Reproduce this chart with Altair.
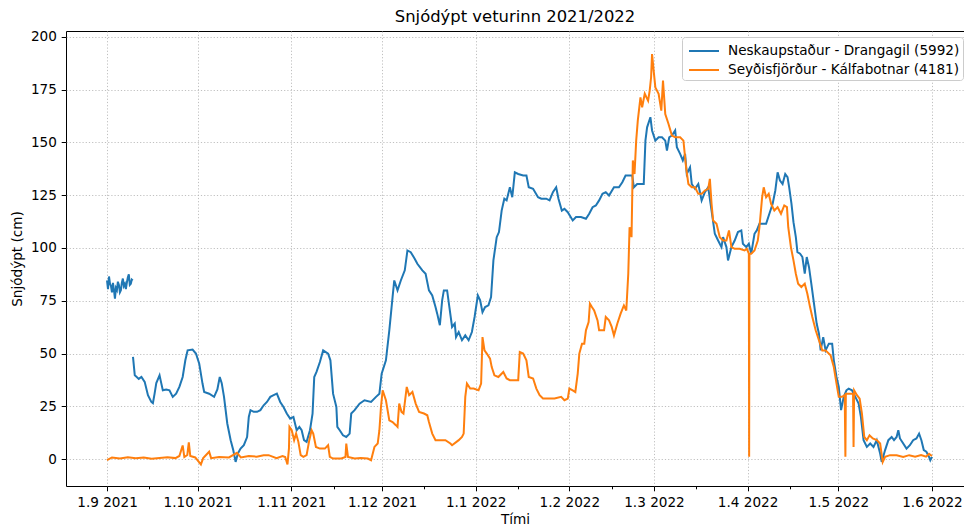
import altair as alt
import pandas as pd

station_a = "Neskaupstaður - Drangagil (5992)"
station_b = "Seyðisfjörður - Kálfabotnar (4181)"

# day offsets from 1 Sep 2021 00:00, snow depth in cm
a1_day = [0.0, 0.33, 0.66, 1.0, 1.31, 1.64, 1.97, 2.3, 2.63, 2.95, 3.28, 3.6, 3.94, 4.27,
          4.59, 4.92, 5.25, 5.58, 5.91, 6.24, 6.56, 6.89, 7.22, 7.55, 7.88, 8.2, 8.53]
a1_val = [84.6, 80.5, 86.5, 83.0, 82.0, 79.0, 83.5, 80.0, 76.0, 81.0, 80.0, 84.0, 82.5, 79.0,
          80.0, 83.5, 85.5, 82.0, 83.0, 80.5, 83.5, 86.0, 87.5, 82.5, 83.0, 85.0, 84.6]

a2_day = [8.6, 9.19, 9.75, 10.5, 11.39, 12.47, 13.55, 14.67, 15.19, 15.75, 16.31, 17.39, 17.95,
          18.47, 19.59, 20.67, 21.76, 22.87, 23.95, 25.04, 25.92, 26.68, 28.32, 29.43, 30.52,
          31.6, 32.16, 33.8, 35.44, 36.52, 37.31, 37.96, 38.72, 39.8, 40.92, 41.77, 42.56,
          43.31, 44.2, 45.28, 46.36, 46.92, 47.48, 48.56, 49.65, 50.76, 51.84, 52.93, 54.04,
          55.13, 56.21, 57.32, 58.41, 59.49, 60.61, 61.69, 62.77, 63.66, 64.41, 65.2, 66.05,
          67.17, 68.02, 68.58, 69.33, 70.45, 71.53, 73.17, 73.93, 74.81, 75.9, 76.22, 77.01,
          78.09, 79.18, 80.29, 80.82, 81.93, 83.57, 85.21, 87.38, 89.02, 90.14, 90.89, 92.3,
          93.42, 94.5, 95.06, 96.14, 97.23, 98.54, 99.42, 100.51, 101.82, 102.7, 104.35,
          105.43, 106.54, 107.63, 108.71, 109.27, 110.15, 110.91, 111.47, 112.55, 113.3,
          114.19, 115.08, 115.5, 116.39, 117.47, 118.56, 119.67, 120.75, 121.64, 122.72,
          123.48, 124.26, 125.12, 126.23, 127.09, 127.87, 128.96, 129.71, 130.6, 131.48,
          132.24, 133.32, 134.11, 134.96, 136.08, 137.72, 138.8, 139.56, 141.0, 142.64,
          143.72, 145.36, 146.45, 147.56, 148.64, 149.4, 150.51, 151.37, 152.48, 154.12,
          155.21, 156.85, 158.49, 159.57, 160.69, 161.77, 162.85, 163.97, 165.05, 166.13,
          167.77, 169.41, 170.53, 171.61, 173.81, 174.34, 175.45, 177.62, 178.18, 178.73,
          179.82, 180.37, 181.46, 182.54, 183.66, 184.74, 185.3, 186.05, 186.94, 188.02,
          188.58, 189.66, 190.55, 191.3, 191.86, 192.94, 193.5, 194.58, 195.67, 196.78,
          197.86, 198.95, 200.06, 201.14, 202.23, 203.34, 203.87, 204.98, 205.51, 206.63,
          207.71, 208.79, 209.91, 210.43, 211.55, 212.4, 213.19, 214.27, 215.03, 215.91,
          218.11, 219.19, 220.28, 221.16, 221.92, 222.7, 223.56, 224.44, 225.2, 225.75,
          226.51, 227.17, 227.95, 228.48, 229.36, 230.12, 230.9, 231.56, 232.31, 233.07,
          233.96, 234.84, 235.6, 236.16, 237.01, 237.8, 238.88, 239.97, 240.52, 241.41,
          242.16, 242.92, 243.81, 244.69, 245.44, 246.53, 247.64, 248.73, 249.48, 250.37,
          251.45, 252.57, 253.65, 254.73, 255.85, 256.37, 257.49, 258.57, 259.66, 260.44,
          261.3, 261.86, 262.41, 263.49, 264.58, 265.69, 266.77, 267.86, 268.74, 269.5,
          270.29, 271.14, 272.03, 272.45, 273.0]
a2_val = [48.4, 39.7, 39.0, 38.0, 38.9, 36.6, 30.3, 27.1, 26.5, 31.0, 36.0, 39.7, 36.0,
          32.6, 33.0, 32.6, 29.5, 31.0, 34.2, 38.9, 46.8, 51.5, 51.9, 50.0, 45.2,
          35.8, 31.8, 31.0, 29.5, 33.0, 38.9, 36.0, 29.5, 16.9, 9.0, 4.3, -1.3,
          2.7, 5.0, 6.6, 10.5, 20.0, 23.2, 22.4, 22.4, 23.2, 25.5, 27.1, 29.5,
          30.3, 31.0, 27.1, 24.7, 21.6, 19.2, 20.0, 13.7, 15.3, 13.7, 9.0, 8.2,
          13.7, 21.6, 38.9, 41.3, 46.0, 51.5, 50.0, 46.8, 31.0, 24.7, 15.3, 13.7,
          11.3, 10.5, 12.1, 21.6, 23.2, 26.3, 27.9, 27.1, 29.5, 31.0, 40.5, 46.8,
          61.0, 76.7, 84.6, 79.9, 84.6, 89.4, 98.8, 98.0, 94.9, 92.5, 89.4,
          87.8, 79.9, 77.5, 72.0, 68.9, 63.4, 75.2, 79.9, 79.9, 72.0,
          62.6, 64.2, 57.8, 60.2, 56.3, 58.6, 56.3, 60.2, 67.3, 77.5,
          75.2, 69.6, 72.0, 72.8, 76.7, 94.1, 105.1, 107.5, 117.7, 123.3,
          122.5, 128.7, 124.0, 135.8, 135.0, 134.3, 134.3, 128.7, 128.0, 124.0,
          123.3, 123.3, 122.5, 126.4, 128.7, 123.3, 117.7, 118.5, 116.9, 113.0,
          114.6, 114.6, 113.8, 116.2, 119.3, 120.1, 122.5, 125.6, 126.4, 124.8,
          128.7, 128.7, 131.1, 134.3, 134.3, 128.7, 130.3, 130.3, 150.8, 157.1,
          161.9, 155.6, 150.8, 152.4, 152.4, 150.8, 146.1, 152.4, 153.2, 155.6,
          147.7, 144.5, 141.4, 144.5, 135.0, 138.2, 130.3, 128.0, 130.3, 122.5,
          126.4, 128.7, 117.7, 106.7, 103.5, 100.4, 105.1, 100.4, 94.1, 100.4,
          103.5, 107.5, 108.3, 102.0, 100.4, 102.0, 97.3, 106.7, 108.3, 111.4,
          111.4, 116.2, 120.9, 127.2, 135.8, 131.9, 130.3, 135.0, 133.5, 128.7,
          120.9, 112.2, 105.1, 98.0, 97.3, 95.7, 87.8, 95.7, 90.9, 83.1,
          73.6, 64.2, 59.4, 51.5, 57.8, 51.5, 54.7, 54.7, 46.8, 38.9,
          34.2, 23.2, 29.5, 32.6, 33.4, 32.6, 29.5, 26.3, 20.0, 9.0,
          5.8, 7.4, 5.8, 9.0, 2.7, -1.3, 4.3, 9.0, 10.5, 9.0,
          10.5, 13.7, 9.8, 7.4, 5.0, 6.6, 9.0, 9.8, 12.1, 9.0,
          4.3, 3.5, 1.1, -0.5, 1.1]

b_day = [0.0, 1.64, 4.27, 6.89, 9.52, 12.14, 14.77, 17.39, 20.02, 22.64, 23.95, 25.04, 25.59,
         26.58, 27.07, 27.56, 29.2, 31.07, 31.83, 33.8, 34.45, 37.08, 40.36, 42.99, 44.3,
         46.92, 49.55, 51.84, 53.49, 56.11, 58.08, 58.97, 59.72, 60.21, 60.38, 61.13, 61.92,
         62.58, 63.33, 64.09, 64.97, 66.05, 66.94, 67.7, 68.25, 69.14, 70.45, 72.09, 73.17,
         73.73, 74.81, 77.54, 78.91, 79.18, 79.74, 81.93, 84.0, 86.3, 87.38, 88.5, 89.58,
         90.14, 90.66, 91.22, 92.3, 93.42, 94.5, 95.59, 96.14, 96.7, 97.45, 98.11, 99.19,
         99.98, 101.07, 102.15, 103.27, 104.9, 105.99, 106.54, 107.63, 108.71, 110.35,
         111.99, 113.63, 114.19, 116.39, 117.47, 118.03, 118.56, 119.11, 120.2, 121.31,
         122.95, 123.8, 124.26, 124.92, 125.68, 126.76, 127.31, 128.2, 129.51, 131.15,
         132.24, 133.32, 136.08, 136.6, 137.72, 138.8, 139.56, 141.0, 142.08, 143.16,
         144.28, 145.92, 148.09, 150.29, 151.37, 152.48, 153.01, 154.12, 154.98, 155.77,
         156.3, 157.19, 157.94, 158.49, 159.38, 159.81, 160.46, 161.21, 162.33, 162.85,
         164.49, 165.05, 166.13, 167.02, 167.77, 168.89, 169.97, 171.05, 171.84, 172.5,
         172.93, 173.58, 174.01, 174.57, 175.12, 175.65, 176.53, 177.09, 177.95, 179.06,
         179.59, 180.05, 180.37, 180.9, 181.46, 182.54, 183.43, 183.99, 184.74, 185.82,
         186.94, 188.02, 189.66, 190.75, 191.63, 192.39, 193.5, 194.58, 195.67, 196.78,
         197.86, 198.95, 199.5, 200.06, 200.58, 201.7, 202.78, 203.87, 204.98, 205.83,
         206.63, 207.71, 209.35, 210.99, 211.75, 212.4, 212.5, 212.6, 213.19, 214.27,
         215.36, 215.91, 216.8, 217.32, 218.11, 218.97, 219.76, 220.84, 221.92, 223.04,
         224.12, 225.01, 225.44, 226.32, 227.17, 227.95, 228.71, 229.79, 230.9, 231.76,
         232.65, 233.4, 234.52, 235.6, 236.69, 237.8, 239.44, 240.52, 241.41, 242.16,
         243.25, 244.13, 244.35, 244.5, 246.0, 246.88, 247.05, 247.25, 248.18, 249.07,
         249.82, 250.6, 251.45, 252.34, 253.42, 254.73, 255.85, 256.7, 257.49, 259.13,
         261.3, 263.49, 265.46, 267.43, 269.4, 271.04, 272.03, 273.0]
b_val = [-0.5, 0.8, 0.3, 0.9, 0.4, 0.8, 0.2, 0.6, 0.9, 0.5, 1.5, 6.5, 1.0,
         2.0, 8.0, 1.5, 0.8, -2.5, 0.5, 3.5, 0.5, 1.0, 0.8, 3.0, 0.8,
         1.5, 1.2, 1.9, 1.9, 0.5, 1.5, 1.0, -2.5, 5.0, 15.3, 13.7, 9.0,
         12.1, 8.2, 1.9, 1.1, 1.9, 9.0, 13.7, 12.1, 5.8, 5.0, 5.0, 6.6,
         1.1, 0.3, 0.3, 1.0, 7.4, 1.1, 0.3, 0.6, 0.3, -0.5, 5.8, 7.4,
         13.7, 24.7, 32.6, 27.9, 18.4, 17.6, 16.1, 15.3, 26.3, 22.4, 21.6, 34.2,
         30.3, 31.8, 26.3, 22.4, 21.6, 20.8, 17.6, 12.1, 9.0, 9.0,
         9.0, 7.4, 6.6, 9.0, 10.5, 12.1, 29.5, 35.8, 33.4, 33.4,
         32.6, 35.8, 57.8, 51.5, 50.0, 47.6, 43.6, 39.7, 38.9, 41.3,
         38.2, 37.4, 37.4, 50.7, 50.0, 46.8, 38.9, 38.2, 33.4, 30.3,
         28.7, 28.7, 28.7, 29.5, 27.9, 28.7, 33.4, 32.6, 31.8, 40.5,
         50.0, 54.7, 54.7, 61.0, 64.9, 73.6, 72.0, 70.4, 65.7, 61.0,
         61.0, 67.3, 65.7, 62.6, 58.6, 64.2, 68.9, 72.8, 70.4, 87.8,
         109.8, 105.1, 141.4, 135.0, 150.8, 160.3, 171.3, 166.6, 173.0, 169.7,
         174.5, 180.8, 191.8, 183.9, 176.0, 173.0, 165.0, 179.2, 163.4, 158.7,
         153.2, 152.4, 152.4, 150.8, 138.2, 130.3, 128.7, 128.7, 125.6, 125.6,
         127.2, 128.0, 132.7, 120.9, 113.0, 111.4, 105.1, 103.5, 103.5, 108.3,
         100.4, 99.6, 99.6, 98.8, 99.6, 97.3, 1.1, 97.3, 97.3, 98.8,
         103.5, 109.8, 124.0, 128.7, 124.0, 125.6, 120.9, 117.7, 119.3, 116.2,
         120.1, 119.3, 109.8, 100.4, 94.1, 87.8, 83.1, 81.5, 83.1, 78.3,
         72.0, 67.3, 61.0, 56.3, 51.5, 51.5, 49.2, 43.6, 35.8, 29.5,
         29.5, 30.3, 1.1, 31.0, 31.0, 31.0, 5.8, 32.6, 30.3, 28.7,
         21.6, 10.5, 9.0, 11.3, 9.8, 9.0, 7.4, -1.3, 1.1, 1.9,
         1.9, 1.1, 1.9, 1.2, 2.0, 1.2, 2.5, 1.5]

month_ticks = [0, 30, 61, 91, 122, 153, 181, 212, 242, 273]
month_labels = ["1.9 2021", "1.10 2021", "1.11 2021", "1.12 2021", "1.1 2022",
                "1.2 2022", "1.3 2022", "1.4 2022", "1.5 2022", "1.6 2022"]
minor_ticks = [14, 44, 75, 105, 136, 167, 195, 226, 256]
y_ticks = [0, 25, 50, 75, 100, 125, 150, 175, 200]

rows = []
for d, v in zip(a1_day, a1_val):
    rows.append({"day": d, "depth": v, "station": station_a, "seg": "a1"})
for d, v in zip(a2_day, a2_val):
    rows.append({"day": d, "depth": v, "station": station_a, "seg": "a2"})
for d, v in zip(b_day, b_val):
    rows.append({"day": d, "depth": v, "station": station_b, "seg": "b"})
df = pd.DataFrame(rows)

all_ticks = sorted(month_ticks + minor_ticks)
major_arr = "[" + ",".join(str(t) for t in month_ticks) + "]"
label_expr = ""
for t, lab in zip(month_ticks, month_labels):
    label_expr += f"datum.value == {t} ? '{lab}' : "
label_expr += "''"
is_major = f"indexof({major_arr}, datum.value) >= 0"

x_axis = alt.Axis(
    values=all_ticks,
    labelExpr=label_expr,
    title="Tími",
    grid=True,
    gridOpacity={"condition": {"test": is_major, "value": 1}, "value": 0},
    tickSize={"condition": {"test": is_major, "value": 4.8}, "value": 2.8},
    labelPadding=4.8,
    labelOverlap=False,
    labelFlush=False,
    titleY=37,
    titleBaseline="alphabetic",
)
y_axis = alt.Axis(
    values=y_ticks,
    title="Snjódýpt (cm)",
    grid=True,
    tickSize=4.8,
    labelPadding=4.8,
    labelOverlap=False,
    titleX=-45,
    titleBaseline="alphabetic",
)

legend = alt.Legend(
    title=None,
    orient="none",
    legendX=616,
    legendY=6,
    symbolType="M-1.5,0L1.5,0",
    symbolSize=400,
    symbolStrokeWidth=2,
    symbolOffset=8,
    labelOffset=13,
    labelFontSize=13.6,
    labelFont="DejaVu Sans",
    labelColor="black",
    labelLimit=500,
    padding=3,
    rowPadding=1,
    fillColor="white",
    strokeColor="#cccccc",
    cornerRadius=3,
)

chart = alt.Chart(df).mark_line(strokeWidth=2, clip=True).encode(
    x=alt.X("day:Q", scale=alt.Scale(domain=[-13.57, 283.6], nice=False, zero=False), axis=x_axis),
    y=alt.Y("depth:Q", scale=alt.Scale(domain=[-12.7, 202.7], nice=False, zero=False), axis=y_axis),
    color=alt.Color("station:N",
                    scale=alt.Scale(domain=[station_a, station_b], range=["#1f77b4", "#ff7f0e"]),
                    legend=legend),
    detail="seg:N",
).properties(
    width=898,
    height=455,
    padding={"left": 58, "top": 23, "right": 0, "bottom": 40},
    autosize=alt.AutoSizeParams(type="none"),
    title=alt.TitleParams("Snjódýpt veturinn 2021/2022", fontSize=16.4, fontWeight="normal",
                          font="DejaVu Sans", color="black", anchor="middle", offset=8,
                          baseline="alphabetic", dy=17),
).configure(
    font="DejaVu Sans",
).configure_view(
    stroke="black", strokeWidth=1,
).configure_axis(
    domain=False,
    tickColor="black",
    tickWidth=1,
    labelColor="black",
    titleColor="black",
    labelFontSize=13.6,
    titleFontSize=13.6,
    titleFontWeight="normal",
    labelFont="DejaVu Sans",
    titleFont="DejaVu Sans",
    gridColor="#b0b0b0",
    gridDash=[1.2, 2],
    gridWidth=0.8,
)

chart.save("out.html", embed_options={"renderer": "svg", "actions": False})
